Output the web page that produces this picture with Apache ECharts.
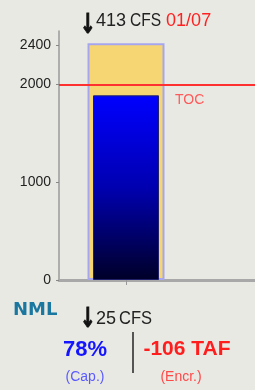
<!DOCTYPE html>
<html>
<head>
<meta charset="utf-8" />
<title>NML</title>
<script src="https://cdn.jsdelivr.net/npm/echarts@6/dist/echarts.min.js"></script>
<style>
  html, body { margin: 0; padding: 0; background: #e9e9e4; }
  #main { width: 255px; height: 390px; }
</style>
</head>
<body>
<div id="main"></div>
<script>
// reservoir data (TAF)
var station = 'NML';
var capacity = [2420];
var storage = [1888];
var toc = [1994];
var yTicks = [0, 1000, 2000, 2400];
var inflowCfs = 413;
var outflowCfs = 25;
var dateText = '01/07';
var pctCap = 78;
var encroach = -106;

var font = '"Liberation Sans", Arial, sans-serif';

var chart = echarts.init(document.getElementById('main'));

// narrow-looking text: regular font squeezed horizontally
function squeezed(x, y, text, color, sx) {
  return {
    type: 'text', x: x, y: y, scaleX: sx,
    style: { text: text, fontSize: 19, fill: color, fontFamily: font }
  };
}
function arrow(x, y) {
  return {
    type: 'text', x: x, y: y, scaleX: 0.85, scaleY: 1.25,
    style: { text: '↓', fontSize: 22, fontWeight: 'bold', fill: '#111', stroke: '#111', lineWidth: 0.8, fontFamily: 'DejaVu Sans' }
  };
}

chart.setOption({
  backgroundColor: '#e9e9e4',
  animation: false,
  grid: { left: 59, right: 0, top: 31, bottom: 110 },
  xAxis: [{
    type: 'value',
    min: 0,
    max: 2.925,
    axisLine: { show: true, onZero: false, lineStyle: { color: '#a8a8a8', width: 3 } },
    axisTick: { show: true, customValues: [1], length: 5, lineStyle: { color: '#999' } },
    axisLabel: { show: false },
    splitLine: { show: false }
  }, {
    type: 'value',
    min: 0,
    max: 2.925,
    show: false
  }],
  yAxis: {
    type: 'value',
    min: 0,
    max: 2546,
    axisLine: { show: true, lineStyle: { color: '#9a9a9a', width: 1.5 } },
    axisTick: { show: true, customValues: yTicks, length: 3, lineStyle: { color: '#888' } },
    axisLabel: {
      customValues: yTicks,
      formatter: function (v) { return String(v); },
      color: '#222',
      fontFamily: font,
      fontSize: 14,
      margin: 8
    },
    splitLine: { show: false }
  },
  series: [{
    type: 'bar',
    xAxisIndex: 0,
    barWidth: 77,
    z: 2,
    data: capacity.map(function (v) { return [1, v]; }),
    itemStyle: { color: '#f6d672', borderColor: '#a6a6f0', borderWidth: 2 },
    markLine: {
      silent: true,
      symbol: 'none',
      z: 10,
      lineStyle: { color: '#ff3030', width: 2, type: 'solid' },
      label: {
        show: true,
        position: 'insideStartBottom',
        formatter: 'TOC',
        color: '#ff5a5a',
        fontFamily: font,
        fontSize: 14,
        padding: [3, 0, 0, 111]
      },
      data: toc.map(function (v) { return { yAxis: v }; })
    }
  }, {
    type: 'bar',
    xAxisIndex: 1,
    barWidth: 66,
    z: 3,
    data: storage.map(function (v) { return [1, v]; }),
    itemStyle: {
      borderColor: '#20206a',
      borderWidth: 1,
      color: {
        type: 'linear', x: 0, y: 0, x2: 0, y2: 1,
        colorStops: [
          { offset: 0, color: '#0000ff' },
          { offset: 0.5, color: '#0000b0' },
          { offset: 1, color: '#000028' }
        ]
      }
    }
  }],
  graphic: [
    arrow(80, 12),
    squeezed(96, 11, String(inflowCfs), '#222', 0.95),
    squeezed(130, 11, 'CFS', '#222', 0.82),
    squeezed(166, 11, dateText, '#ff2020', 0.95),
    {
      type: 'text', left: 13, top: 301,
      style: { text: station, fontSize: 18, fontWeight: 'bold', fill: '#1a77a0', fontFamily: 'DejaVu Sans' }
    },
    arrow(80, 306),
    squeezed(96, 309, String(outflowCfs), '#222', 0.95),
    squeezed(119, 309, 'CFS', '#222', 0.87),
    {
      type: 'text', x: 85, y: 339,
      style: { text: pctCap + '%', align: 'center', fontSize: 22, fontWeight: 'bold', fill: '#1414ff', fontFamily: font }
    },
    {
      type: 'text', x: 85, y: 370,
      style: { text: '(Cap.)', align: 'center', fontSize: 14, fill: '#5a5aff', fontFamily: font }
    },
    {
      type: 'line',
      shape: { x1: 133, y1: 332, x2: 133, y2: 373 },
      style: { stroke: '#555', lineWidth: 2 }
    },
    {
      type: 'text', x: 187, y: 339,
      style: { text: encroach + ' TAF', align: 'center', fontSize: 21, fontWeight: 'bold', fill: '#ff1e1e', fontFamily: font }
    },
    {
      type: 'text', x: 181, y: 370,
      style: { text: '(Encr.)', align: 'center', fontSize: 14, fill: '#ff4848', fontFamily: font }
    }
  ]
});
</script>
</body>
</html>
